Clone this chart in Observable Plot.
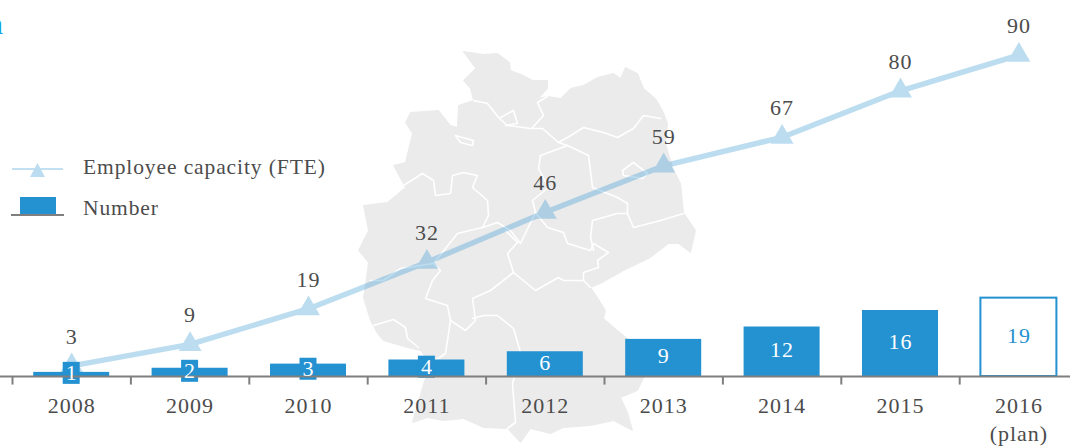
<!DOCTYPE html>
<html>
<head>
<meta charset="utf-8">
<script src="https://cdn.jsdelivr.net/npm/d3@7"></script>
<script src="https://cdn.jsdelivr.net/npm/@observablehq/plot@0.6"></script>
<style>
html,body{margin:0;padding:0;background:#fff}
#stage{position:relative;width:1070px;height:446px;overflow:hidden;background:#fff;font-family:"Liberation Serif",serif;color:#4c4c4c}
#stage svg{position:absolute;left:0;top:0}
#capacity svg{opacity:.3}
#counts text{letter-spacing:1px}
#stage .t{position:absolute;white-space:nowrap;font-size:21.5px;letter-spacing:.9px;line-height:24px}
</style>
</head>
<body>
<div id="stage">
  <div id="map"></div>
  <div id="capacity"></div>
  <div id="counts"></div>
  <div class="t" style="left:-12px;top:12px;color:#12a0dc;font-size:30px">n</div>
  <svg width="80" height="230" style="pointer-events:none">
    <line x1="12" x2="63" y1="169" y2="169" stroke="#c3e0f3" stroke-width="2"/>
    <path d="M37.500 163 L45 177 L30 177 Z" fill="#bbdcf1"/>
    <rect x="20" y="197" width="36" height="18" fill="#2491d1"/>
    <line x1="11" x2="64" y1="215" y2="215" stroke="#7f7f7f" stroke-width="2"/>
  </svg>
  <div class="t" style="left:83px;top:155px">Employee capacity (FTE)</div>
  <div class="t" style="left:83px;top:196px">Number</div>
</div>
<script>
const years = [2008, 2009, 2010, 2011, 2012, 2013, 2014, 2015, 2016];
const yearLabels = ["2008", "2009", "2010", "2011", "2012", "2013", "2014", "2015", "2016\n(plan)"];
const capacity = [3, 9, 19, 32, 46, 59, 67, 80, 90];
const number = [1, 2, 3, 4, 6, 9, 12, 16, 19];
const planYear = 2016;

// Background map of Germany in map units
const mapOutline = [[463,51],[483,54],[497,53],[509,62],[510,70],[523,75],[532,80],[547,80],[547,88],[538,98],[547,96],[560,98],[570,88],[583,85],[597,77],[613,73],[620,78],[625,67],[637,73],[643,88],[655,98],[662,110],[667,123],[665,143],[672,167],[680,183],[683,212],[695,230],[690,252],[678,243],[668,243],[650,257],[623,270],[600,283],[590,287],[597,297],[605,310],[603,318],[617,330],[633,343],[645,373],[637,390],[620,397],[627,412],[632,430],[613,420],[590,425],[563,427],[550,433],[530,428],[520,442],[507,428],[483,427],[463,418],[443,420],[427,417],[412,422],[422,387],[430,363],[420,350],[407,347],[383,340],[377,333],[370,320],[363,297],[365,285],[368,262],[358,250],[368,230],[363,205],[387,202],[405,187],[393,165],[405,162],[412,133],[405,122],[410,112],[438,110],[450,125],[457,127],[458,105],[473,100],[470,88],[463,80],[475,68]];
const mapBorders = [
  [[473,100],[487,103],[498,117],[507,125],[530,128],[542,128],[558,142]],
  [[558,142],[567,137],[583,127],[603,132],[617,137],[633,128],[643,115],[660,118]],
  [[532,127],[543,115],[537,102],[547,96]],
  [[500,117],[513,110],[517,123],[505,125]],
  [[455,135],[473,140],[472,145],[460,142],[455,135]],
  [[558,142],[567,145],[588,155],[592,187],[617,197],[627,203],[627,213],[617,213],[592,220],[590,237],[593,250]],
  [[567,145],[540,155],[538,168],[548,187],[532,200],[535,212],[547,227],[563,232],[567,243],[590,250],[593,243],[608,252],[597,260],[598,267],[583,272],[583,280],[590,287]],
  [[627,213],[633,227],[660,220],[683,213]],
  [[622,170],[633,162],[647,173],[642,178],[623,175],[622,170]],
  [[403,185],[422,173],[433,180],[435,195],[450,193],[452,175],[463,172],[477,175],[472,187],[487,200],[488,215],[482,227],[497,222],[510,230],[520,243],[535,212]],
  [[583,280],[563,280],[558,277],[535,290],[513,272],[507,253],[517,242],[505,230]],
  [[513,272],[490,290],[472,298],[475,320],[465,330],[450,320]],
  [[482,227],[457,233],[433,263],[440,270],[432,280],[425,298],[447,305],[450,320],[445,353],[430,363]],
  [[472,318],[483,315],[497,315],[513,328],[520,352],[512,383],[515,422],[507,428]],
  [[370,280],[383,280],[400,268],[433,263]],
  [[373,325],[393,319],[405,327],[407,338],[418,347]]
];

const FONT = "Liberation Serif";
const TEXT = "#4c4c4c";
const BLUE = "#2491d1";
const barFactor = 1.155; // bars use their own, taller unit than the capacity line
const yTop = 105.3;
const base = {
  width: 1070, height: 446,
  marginTop: 0, marginLeft: 0, marginRight: 0, marginBottom: 70,
  style: {background: "transparent", fontFamily: FONT, overflow: "visible"},
  x: {type: "band", domain: years, range: [12, 1077.6], padding: 0, round: false, axis: null},
  y: {domain: [0, yTop], range: [376, 0], axis: null}
};

const table = years.map((year, i) => ({
  year, label: yearLabels[i], capacity: capacity[i], number: number[i],
  bar: number[i] * barFactor, plan: year === planYear
}));

// map layer
document.getElementById("map").append(Plot.plot({
  width: 1070, height: 446, margin: 0,
  style: {background: "transparent"},
  x: {domain: [0, 1070], range: [0, 1070], axis: null},
  y: {domain: [0, 446], range: [0, 446], axis: null},
  marks: [
    Plot.line(mapOutline, {x: d => d[0], y: d => d[1], fill: "#ebebeb", stroke: "#ebebeb", strokeWidth: 1, curve: "linear-closed"}),
    ...mapBorders.map(b => Plot.line(b, {x: d => d[0], y: d => d[1], stroke: "#fff", strokeWidth: 1.6}))
  ]
}));

// capacity line: its whole layer is translucent, so the map shows through
document.getElementById("capacity").append(Plot.plot({
  ...base,
  marks: [
    Plot.line(table, {x: "year", y: "capacity", stroke: BLUE, strokeWidth: 5.4}),
    Plot.dot(table, {x: "year", y: "capacity", symbol: "triangle", r: 8.5, fill: BLUE, stroke: "none"})
  ]
}));

// bars, axis, labels
const boxed = table.filter(d => d.number <= 4);
const labelBox = 11 / (376 / yTop);
document.getElementById("counts").append(Plot.plot({
  ...base,
  marks: [
    Plot.barY(table, {x: "year", y: "bar", insetLeft: 21.2, insetRight: 21.2,
      fill: d => d.plan ? "#fff" : BLUE, stroke: d => d.plan ? BLUE : "none", strokeWidth: 2}),
    Plot.barY(boxed, {x: "year", y1: d => d.bar / 2 - labelBox + 0.3, y2: d => d.bar / 2 + labelBox + 0.3,
      insetLeft: 50.7, insetRight: 50.7, fill: BLUE}),
    Plot.ruleY([0], {stroke: "#7f7f7f", strokeWidth: 2}),
    Plot.ruleX(years, {x: d => d, y1: 0, y2: -2.4, dx: -59.2, stroke: "#7f7f7f", strokeWidth: 2}),
    Plot.text(table, {x: "year", y: d => d.bar / 2, dy: -1.5, text: "number", fontSize: 22,
      fill: d => d.plan ? BLUE : "#fff"}),
    Plot.text(table, {x: "year", y: "capacity", dy: -29, text: "capacity", fontSize: 22, fill: TEXT}),
    Plot.text(table, {x: "year", y: 0, dy: 16, lineAnchor: "top", text: "label", fontSize: 22, lineHeight: 1.3, fill: TEXT})
  ]
}));
</script>
</body>
</html>
